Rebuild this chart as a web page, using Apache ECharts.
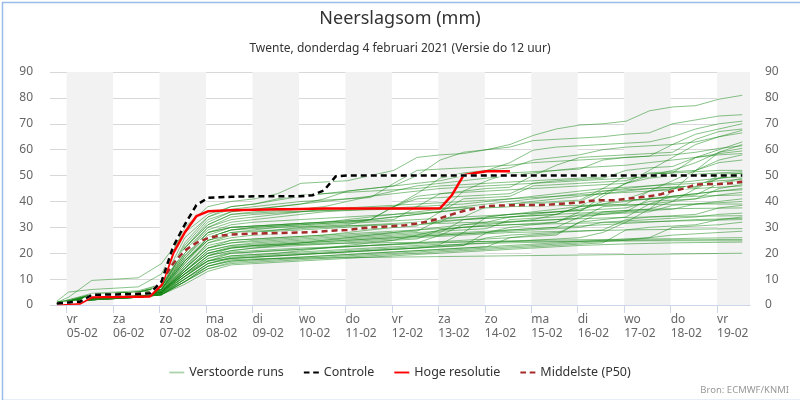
<!DOCTYPE html>
<html><head><meta charset="utf-8">
<script src="https://cdn.jsdelivr.net/npm/echarts@6/dist/echarts.min.js"></script>
<style>html,body{margin:0;padding:0;background:#fff}#c{width:800px;height:400px}</style>
</head><body><div id="c"></div><script>
// ---- axis / time definitions (hours relative to 05-02-2021 00:00) ----
const dayNames = ['zo','ma','di','wo','do','vr','za'];
const dayTickHours = [0,24,48,72,96,120,144,168,192,216,240,264,288,312,336];
const shadedDayHours = [0,48,96,144,192,240,288,336];
const axisStartHours = -8.6;
const axisEndHours = 353;
const yTicks = [0,10,20,30,40,50,60,70,80,90];

// ensemble members: 12-hourly
const runHours = [-5,1,13,25,37,49,61,73,85,97,109,121,133,145,157,169,181,193,205,217,229,241,253,265,277,289,301,313,325,337,349];
// control / hres / p50: 6-hourly
const mainHours = [-5,1,7,13,19,25,31,37,43,49,55,61,67,73,79,85,91,97,103,109,115,121,127,133,139,145,151,157,163,169,175,181,187,193,199,205,211,217,223,229,235,241,247,253,259,265,271,277,283,289,295,301,307,313,319,325,331,337,343,349];

const control = [0.6,1.0,1.3,3.9,4.0,4.1,4.2,4.3,4.5,9,22.5,31,38.6,41.4,41.6,41.8,41.9,42,42,42,42,42,42.4,44.3,49.7,
  50,50,50,50,50,50,50,50,50,50,50,50,50,50,50,50,50,50,50,50,50,50,50,50,50,50,50,50,50,50,50,50,50,50,50];
const hres = [0.4,0.5,0.6,3.0,3.1,3.1,3.2,3.2,3.3,7.7,19.9,28,34.3,36.2,36.4,36.6,36.7,36.8,36.9,37,37,37.1,37.2,
  37.3,37.3,37.3,37.3,37.3,37.3,37.3,37.3,37.3,37.3,37.4,42.4,50.1,51,51.7,51.7,51.7];
const p50 = [0.5,0.8,1.2,3.5,3.8,4.0,4.2,4.4,4.7,9,16,21,24,25.8,26.8,27.2,27.4,27.6,27.7,27.8,27.9,28.0,28.2,28.5,28.8,29.0,29.5,30.0,30.2,30.5,30.8,31.5,32.3,33.5,35.0,36.3,37.3,38.2,38.4,38.5,38.6,38.6,38.7,38.9,39.3,39.6,40.3,40.5,40.5,41.0,41.5,42,42.8,44,45,46.5,46.7,46.7,47.0,47.6];

const run01 = [1.5,5,6,6.5,7,12,30,38,40,41,43,47,47.5,48,50,52,57,58,58.5,60,62,65.5,68,69.5,70,71,75,76.5,77,79.5,81];
const run02 = [0.5,1.5,4,4.5,5,7,22,32,36,37,38,39,41,44,45,46,50,56,59,60,61,63.5,64,64.5,65,66,66.5,70,71.5,73,73.5];
const run03 = [0.5,1,3,3.5,4,5,14,24,27,28,29,30,30.5,31,33,38,43,49,51,52,55,59.8,61,61.5,62,62.5,63,65,68,70,71];
const run04 = [1,1.5,4,4.5,5,8,26,34,37,38,39,40,40.5,41,41.5,47,52,52.5,53,53.5,54,55,55.5,56,56.5,57,57.5,62,66,68,70];
const run05 = [0.5,1,3.5,4,4.5,6,18,28,31,32,32.5,33,33.5,34,34.5,35,35.5,36,44,45,45.5,50,54,57,57.5,58,58.5,59,64,67,68];
const run06 = [0.5,1,2.5,3,3.5,5,13,20,22,23,23.5,24,24.5,25,25.5,26,26.5,27,27.5,28,30,31,32,36,42,47,52,57,62,65,67.5];
const run07 = [1,3,9.5,10,10.5,16,28,35,38,39,40.5,42,43,44,45,46,47,48,50,52,53,56,57,58,60,61,61.5,62,63,65,66.5];
const run08 = [0.5,1,3,3.5,4,6,17,25,28,29,30,30.5,31,31.5,32,32.5,33,33.5,34,38,39,39.5,40,40.5,45,50,50.5,51,57,60,63];
const run09 = [0.5,1.5,3,3.5,4,5.5,12,17,18,18.5,19,19.5,20,20.5,21,21.5,22,23,23.5,24,24.5,25,25.5,26,28,32,37,44,52,59,62];
const run10 = [1,2,4,4.5,5,7,20,30,34,35,35.5,36,36.5,37,37.5,38,42,43,44,48,51,51.5,52,52.5,56,57,57.5,58,59,60.5,61.5];
const run11 = [0.5,1,3,3.5,4,5,11,17,19,19.5,20,21,22,23,24,25,27,29,30,31,32,33,35,38,43,47,50,52,55,59,60.5];
const run12 = [0.5,1,3.5,4,4.5,6,19,28,30,30.5,31,31.5,32,32.5,33,38,41,41.5,42,42.5,43,47,48,48.5,49,52,53,53.5,57,58.5,59.5];
const run13 = [1,1.5,4,4.5,5,7,22,31,35,36,36.5,37,38,40,42,44,46,47,48,49,50,51,52,53,53.5,54,55,56,57,58,58.5];
const run14 = [0.5,1,2,2.5,3,4.5,12,19,21,22,23,24,25,26,27,28,29,30,31,32,34,35,36,37,39,41,44,48,52,56,58];
const run15 = [0.5,1,3,3.5,4,5,15,24,26,27,27.5,28,28.5,29,29.5,30,30.5,36,41,41.5,42,46,46.5,47,47.5,48,51,51.5,52,55,56];
const run16 = [1,1.5,4,4.5,5,7,24,34,38,39,41,42.5,43,43.5,44,44.5,45,46,46.5,47,47.5,48,48.5,49,49.5,50,50.5,51,51.5,52,52];
const run17 = [0.5,1,3,3.5,4,5.5,16,26,29,30,30.5,31,31.5,32,32.5,33,38,43,43.5,44,44.5,45,45.5,46,46.5,47,49,50,50.5,51,51.5];
const run18 = [0.5,1,3,3.5,4,5,13,21,23,24,24.5,25,25.5,26,26.5,27,27.5,28,33,33.5,34,34.5,35,38,38.5,39,44,45,45.5,50,51];
const run19 = [1,2,4.5,5,5.5,8,23,33,36,37,38,39,40,41,42,43,44,45,45.5,46,46.5,47,47.5,48,48.5,49,49.5,50,50.3,50.6,50.8];
const run20 = [0.5,1,2.5,3,3.5,5,12,18,20,20.5,21,21.5,22,22.5,23,23.5,24,24.5,25,25.5,26,26.5,27,32,33,34,39,40,45,49,50.5];
const run21 = [0.5,1,3,3.5,4,6,18,27,30,30.5,31,31.5,32,33,34,35,36,37,38,39,40,41,42,43,44,45,46,47,48,49,50.2];
const run22 = [0.5,1.5,3.5,4,4.5,6,17,25,27,28,28.5,29,29.5,30,30.5,31,31.5,32,37,38,38.5,39,39.5,40,44,44.5,45,45.5,46,49,49.5];
const run23 = [0.5,1,2,2.5,3,4,10,16,18,18.5,19,19.5,20,20.5,21,21.5,22,22.5,23,28,29,29.5,30,34,35,36,41,42,42.5,47,49];
const run24 = [1,1.5,3.5,4,4.5,6,20,29,32,33,34,35,36,36.5,37,37.5,38,38.5,39,40,41,42,43,44,45,45.5,46,46.5,47,48,48.5];
const run25 = [0.5,1,3,3.5,4,5,14,22,24,25,25.5,26,26.5,27,27.5,28,28.5,33,34,34.5,35,35.5,36,36.5,40,40.5,41,45,46,47,48];
const run26 = [0.5,1,3,3.5,4,5.5,17,26,29,30,30.5,31,31.5,32,33,34,35,36,37,38,39,40,41,42,43,44,45,45.5,46,46.5,47];
const run27 = [0.5,1,2.5,3,3.5,4.5,11,17,19,19.5,20,20.5,21,21.5,22,22.5,23,23.5,28,34,35,35.5,36,36.5,37,37.5,40,40.5,41,45,46.5];
const run28 = [1,1.5,4,4.5,5,7,21,30,33,34,35,36,37,37.5,38,38.5,39,39.5,40,40.5,41,41.5,42,42.5,43,43.5,44,44.5,45,45.5,46];
const run29 = [0.5,1,3,3.5,4,5,13,20,22,23,23.5,24,24.5,25,25.5,26,26.5,27,31,31.5,32,32.5,33,33.5,38,38.5,39,42,43,44,45];
const run30 = [0.5,1,3,3.5,4,5,15,23,25,25.5,26,26.5,27,28,29,30,31,32,33,34,35,36,37,38,39,40,41,42,43,44,44.5];
const run31 = [0.5,1,2,2.5,3,4,9,15,17,17.5,18,18.5,19,19.5,20,20.5,21,21.5,22,22.5,26,27,27.5,32,36,36.5,37,40,41,42.5,43.5];
const run32 = [0.5,1.5,3.5,4,4.5,6,19,28,30,30.5,31,31.5,32,32.5,33,34,35,36,37,37.5,38,38.5,39,39.5,40,40.5,41,41.5,42,42.3,42.5];
const run33 = [0.5,1,2.5,3,3.5,5,12,19,21,22,22.5,23,23.5,24,24.5,25,25.5,29,30,30.5,31,31.5,32,35,35.5,36,36.5,37,39,40,41];
const run34 = [0.5,1,3,3.5,4,5,14,22,24,24.5,25,25.5,26,26.5,27,27.5,28,28.5,29,29.5,33,33.5,34,34.5,35,35.5,36,38.5,39,39.5,40];
const run35 = [1,1.5,3.5,4,4.5,6,22,31,35,35.5,36,36.2,36.4,36.6,36.8,37,37.2,37.4,37.6,37.8,38,38.2,38.4,38.5,38.6,38.7,38.8,38.9,39,39,39];
const run36 = [0.5,1,2.5,3,3.5,4.5,10,16,18,18.5,19,19.5,20,20.5,21,21.5,22,22.5,23,26,27,27.5,28,28.5,29,33,34,34.5,35,37.5,38.5];
const run37 = [0.5,1,3,3.5,4,5,16,25,28,28.5,29,29.5,30,30.5,31,31.5,32,32.5,33,33.5,34,34.5,35,35.5,36,36.5,37,37.2,37.3,37.4,37.5];
const run38 = [0.5,1,2,2.5,3,4,11,17,20,20.5,21,21.5,22,22.5,23,23.5,24,27,27.5,28,28.5,29,29.5,30,32,32.5,33,33.5,34,35,35.5];
const run39 = [0.5,1,3,3.5,4,5,17,26,29,29.5,30,30.2,30.4,30.6,30.8,31,31.2,31.5,31.8,32,32.3,32.6,33,33.3,33.6,33.8,34,34.2,34.3,34.4,34.5];
const run40 = [0.5,1,2,2.5,3,4,9,14,16,16.5,17,17.5,18,18.5,19,19.5,20,20.5,21,21.5,22,22.5,23,23.5,24,29,30,30.5,31,33,34];
const run41 = [0.5,1,2.5,3,3.5,4.5,13,21,23,23.5,24,24.5,25,25.5,26,26.5,27,27.5,28,28.5,29,29.5,30,30.5,31,31.5,32,32.5,33,33.2,33.5];
const run42 = [0.5,1,3,3.5,4,5,14,22,25,25.5,26,26.5,27,27.5,28,28.5,29,29.5,30,30.5,31,31.2,31.4,31.6,31.8,32,32.2,32.4,32.6,32.8,33];
const run43 = [0.5,1,2,2.5,3,4,10,15,17,17.5,18,18.5,19,19.5,20,20.5,21,21.5,22,22.5,23,23.5,24,24.5,25,25.5,26,30,30.5,31,32];
const run44 = [0.5,1,2.5,3,3.5,4.5,12,19,22,22.5,23,23.5,24,24.5,25,25.5,26,26.5,27,27.5,28,28.2,28.4,28.6,28.8,29,29.1,29.2,29.3,29.4,29.5];
const run45 = [0.5,1,2,2.5,3,4,9,14,16.5,17,17.5,18,18.5,19,19.5,20,20.5,21,21.5,22,22.5,23,23.5,24,24.5,25,26,27,27.5,28,28.5];
const run46 = [0.5,1,2.5,3,3.5,4.5,11,18,20.5,21,21.5,22,22.3,22.6,23,23.3,23.6,24,24.3,24.6,24.8,25,25.1,25.2,25.3,25.4,25.5,25.6,25.8,25.9,26];
const run47 = [0.5,1,2,2.5,3,4,10,16,18.5,19,19.5,20,20.5,21,21.5,22,22.5,23,23.5,23.8,24,24.2,24.4,24.6,24.8,25,25.1,25.2,25.2,25.3,25.3];
const run48 = [0.5,1,3,3.5,4,5,13,20,22.5,23,23.2,23.4,23.6,23.8,24,24.1,24.2,24.3,24.4,24.5,24.5,24.6,24.6,24.7,24.7,24.7,24.8,24.8,24.8,24.8,24.8];
const run49 = [0.5,1,2,2.5,3,4,8,13,15.5,16,16.5,17,17.5,18,18.5,19,19.5,20,20.5,21,21.5,22,22.5,23,23.3,23.6,23.8,24,24.1,24.2,24.3];
const run50 = [0.5,1,2,2.5,3,4,9,15,17.5,17.8,18,18.1,18.2,18.3,18.4,18.5,18.6,18.7,18.8,18.9,19,19.1,19.2,19.3,19.4,19.5,19.6,19.7,19.8,19.9,20];

const runs = [run01,run02,run03,run04,run05,run06,run07,run08,run09,run10,run11,run12,run13,run14,run15,run16,run17,run18,run19,run20,
  run21,run22,run23,run24,run25,run26,run27,run28,run29,run30,run31,run32,run33,run34,run35,run36,run37,run38,run39,run40,
  run41,run42,run43,run44,run45,run46,run47,run48,run49,run50];

// ---- build ----
const base = new Date(2021,1,5,0,0,0).getTime();
const HOUR = 3600 * 1000;
const pairs = (hours, vals) => vals.map((v, i) => [hours[i], v]);
const FONT = 'Noto Sans';
const GREEN = 'rgba(20,135,20,0.5)';
const SOLID_ICON = 'path://M0,0H16V2H0Z';
const DASH_ICON = 'path://M0,0H6V2H0Z M10,0H16V2H10Z';

const series = [];
series.push({
  type: 'line', name: 'bands', data: [], silent: true, z: 0,
  markArea: {
    silent: true,
    itemStyle: { color: '#f2f2f2' },
    data: shadedDayHours.map(h => [{ xAxis: h }, { xAxis: Math.min(h + 24, axisEndHours) }])
  }
});
runs.forEach(r => series.push({
  type: 'line', name: 'Verstoorde runs', data: pairs(runHours, r),
  symbol: 'none', silent: true, z: 2,
  lineStyle: { width: 1, color: GREEN },
  itemStyle: { color: 'rgba(20,135,20,0.35)' },
  emphasis: { disabled: true }
}));
series.push({
  type: 'line', name: 'p50under', data: pairs(mainHours, p50), symbol: 'none', silent: true, z: 3,
  lineStyle: { width: 2.5, color: '#ffffff' }, emphasis: { disabled: true }
});
series.push({
  type: 'line', name: 'Middelste (P50)', data: pairs(mainHours, p50), symbol: 'none', silent: true, z: 4,
  lineStyle: { width: 2.5, color: '#a52a2a', type: [6, 4] }, itemStyle: { color: '#a52a2a' }, emphasis: { disabled: true }
});
series.push({
  type: 'line', name: 'Hoge resolutie', data: pairs(mainHours, hres), symbol: 'none', silent: true, z: 5,
  lineStyle: { width: 2.5, color: '#ff0000' }, itemStyle: { color: '#ff0000' }, emphasis: { disabled: true }
});
series.push({
  type: 'line', name: 'ctrlunder', data: pairs(mainHours, control), symbol: 'none', silent: true, z: 6,
  lineStyle: { width: 2.5, color: '#ffffff' }, emphasis: { disabled: true }
});
series.push({
  type: 'line', name: 'Controle', data: pairs(mainHours, control), symbol: 'none', silent: true, z: 7,
  lineStyle: { width: 2.5, color: '#000000', type: [6, 4] }, itemStyle: { color: '#000000' }, emphasis: { disabled: true }
});

const pad2 = n => (n < 10 ? '0' : '') + n;
const chart = echarts.init(document.getElementById('c'), null, { renderer: 'canvas' });
chart.setOption({
  animation: false,
  backgroundColor: '#ffffff',
  textStyle: { fontFamily: FONT },
  title: [
    { text: 'Neerslagsom (mm)', left: 'center', top: 5,
      textStyle: { fontFamily: FONT, fontSize: 18, fontWeight: 'normal', color: '#333333' } },
    { text: 'Twente, donderdag 4 februari 2021 (Versie do 12 uur)', left: 'center', top: 38,
      textStyle: { fontFamily: FONT, fontSize: 12, fontWeight: 'normal', color: '#333333' } }
  ],
  legend: {
    data: [
      { name: 'Verstoorde runs', icon: SOLID_ICON },
      { name: 'Controle', icon: DASH_ICON },
      { name: 'Hoge resolutie', icon: SOLID_ICON },
      { name: 'Middelste (P50)', icon: DASH_ICON }
    ],
    left: 'center', top: 361, itemWidth: 15, itemHeight: 2.5, itemGap: 20,
    textStyle: { fontFamily: FONT, fontSize: 12.5, color: '#333333' },
    selectedMode: false
  },
  grid: { left: 50, right: 50, top: 72, bottom: 95, containLabel: false },
  xAxis: {
    type: 'value', min: axisStartHours, max: axisEndHours,
    axisLine: { show: true, lineStyle: { color: '#ccd6eb', width: 1 } },
    axisTick: { show: true, length: 8, lineStyle: { color: '#ccd6eb' }, customValues: dayTickHours },
    axisLabel: {
      customValues: dayTickHours,
      align: 'left', margin: 8, lineHeight: 14, fontFamily: FONT, fontSize: 12, color: '#666666',
      formatter: v => { const d = new Date(base + v * HOUR); return dayNames[d.getDay()] + '\n' + pad2(d.getDate()) + '-' + pad2(d.getMonth() + 1); }
    },
    splitLine: { show: false }
  },
  yAxis: [
    { type: 'value', min: yTicks[0], max: yTicks[yTicks.length - 1], interval: 10, position: 'left',
      axisLine: { show: false }, axisTick: { show: false },
      axisLabel: { fontFamily: FONT, fontSize: 12, color: '#666666', margin: 17 },
      splitLine: { lineStyle: { color: '#d8d8d8', width: 1 } } },
    { type: 'value', min: yTicks[0], max: yTicks[yTicks.length - 1], interval: 10, position: 'right',
      axisLine: { show: false }, axisTick: { show: false },
      axisLabel: { fontFamily: FONT, fontSize: 12, color: '#666666', margin: 15 },
      splitLine: { show: false } }
  ],
  graphic: [
    { type: 'text', right: 11, top: 385, style: { text: 'Bron: ECMWF/KNMI', fontFamily: FONT, fontSize: 9.5, fill: '#999999' } },
    { type: 'rect', left: 0, top: 0, silent: true, z: 100,
      shape: { x: 0.5, y: 0.5, width: 798.5, height: 398 },
      style: { fill: 'none', stroke: '#99bbe8', lineWidth: 1.5 } }
  ],
  series: series
});
</script></body></html>
